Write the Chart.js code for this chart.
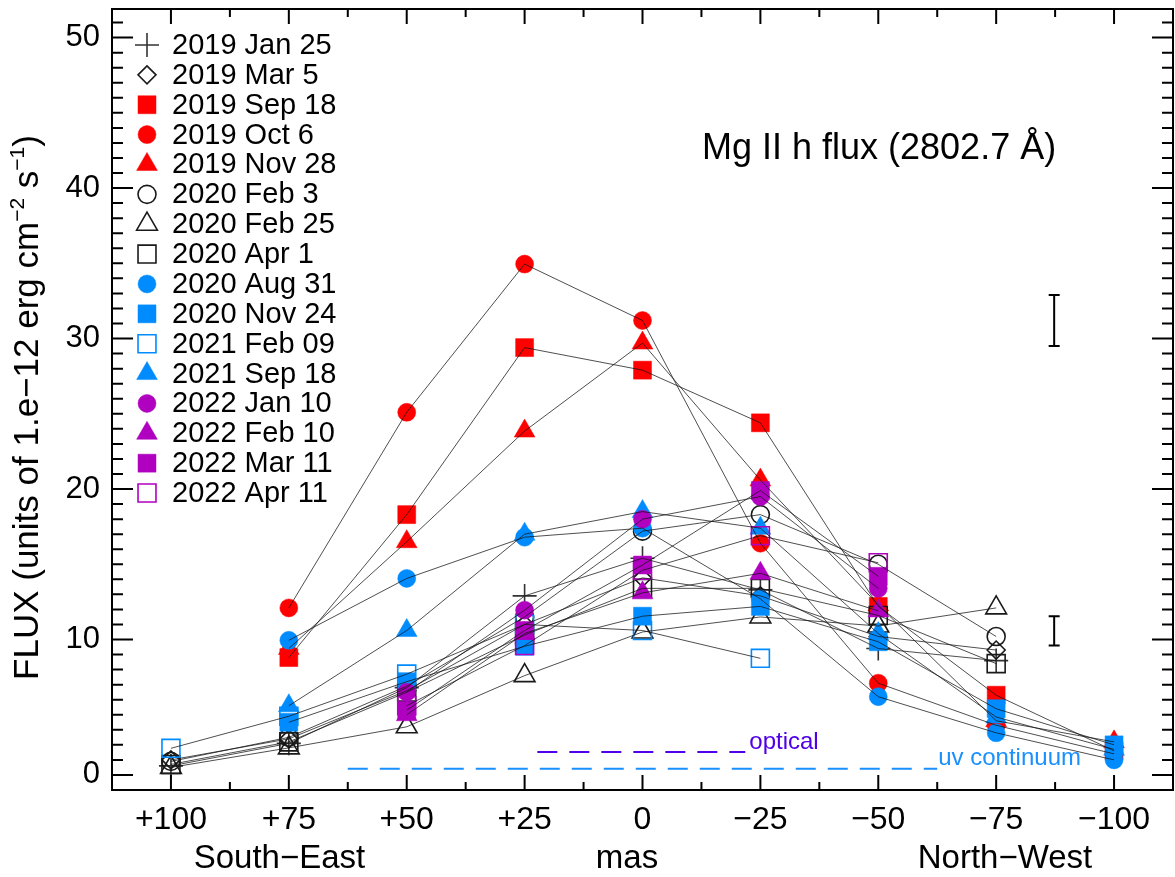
<!DOCTYPE html>
<html><head><meta charset="utf-8">
<script src="https://cdn.jsdelivr.net/npm/chart.js@4.4.0/dist/chart.umd.min.js"></script>
<style>html,body{margin:0;padding:0;background:#fff;}#wrap{width:1175px;height:877px;}</style>
</head><body><div id="wrap"><canvas id="c" width="1175" height="877"></canvas></div>
<script>
// ---------- data ----------
const positions = [100, 75, 50, 25, 0, -25, -50, -75, -100];
const xTickValues = [100, 75, 50, 25, 0, -25, -50, -75, -100];
const xTickLabels = ['+100', '+75', '+50', '+25', '0', '\u221225', '\u221250', '\u221275', '\u2212100'];
const yTickValues = [1, 10, 20, 30, 40, 50];
const yTickLabels = ['0', '10', '20', '30', '40', '50'];

const seriesNames = ['2019 Jan 25', '2019 Mar 5', '2019 Sep 18', '2019 Oct 6', '2019 Nov 28',
  '2020 Feb 3', '2020 Feb 25', '2020 Apr 1', '2020 Aug 31', '2020 Nov 24', '2021 Feb 09',
  '2021 Sep 18', '2022 Jan 10', '2022 Feb 10', '2022 Mar 11', '2022 Apr 11'];

const s2019Jan25 = [1.6, 3.1, 6.8, 12.9, 15.4, 13.3, 9.4, 8.6, null];
const s2019Mar05 = [2.0, 3.4, 6.6, 11.0, 14.1, 12.9, 10.2, 9.3, null];
const s2019Sep18 = [null, 8.8, 18.3, 29.4, 27.9, 24.4, 12.2, 6.3, 2.6];
const s2019Oct06 = [null, 12.1, 25.1, 34.95, 31.2, 16.4, 7.1, 4.3, 2.4];
const s2019Nov28 = [null, 9.4, 16.5, 23.85, 29.7, 20.6, 12.3, 4.6, 3.2];
const s2020Feb03 = [1.9, 3.5, 6.9, 11.5, 17.2, 18.3, 15.0, 10.2, null];
const s2020Feb25 = [1.5, 2.8, 4.2, 7.6, 10.5, 11.5, 10.9, 12.1, null];
const s2020Apr01 = [1.7, 3.2, 6.5, 10.3, 13.4, 13.4, 11.6, 8.4, null];
const s2020Aug31 = [null, 9.95, 14.06, 16.8, 17.4, 12.7, 6.2, 3.8, 2.0];
const s2020Nov24 = [null, 4.5, 7.2, 9.55, 11.55, 12.2, 9.85, 5.4, 3.0];
const s2021Feb09 = [2.77, 4.9, 7.7, 11.0, 10.6, 8.75, null, null, null];
const s2021Sep18 = [null, 5.6, 10.6, 17.0, 18.5, 17.4, 10.4, 4.85, 2.7];
const s2022Jan10 = [null, null, 6.5, 11.95, 18.0, 19.5, 13.4, null, null];
const s2022Feb10 = [null, null, 5.0, 10.4, 13.1, 14.4, 11.9, null, null];
const s2022Mar11 = [null, null, 5.3, 10.6, 14.95, 19.9, 14.2, null, null];
const s2022Apr11 = [null, null, 5.6, 9.6, 14.6, 16.9, 15.1, null, null];

const seriesValues = [s2019Jan25, s2019Mar05, s2019Sep18, s2019Oct06, s2019Nov28, s2020Feb03,
  s2020Feb25, s2020Apr01, s2020Aug31, s2020Nov24, s2021Feb09, s2021Sep18, s2022Jan10,
  s2022Feb10, s2022Mar11, s2022Apr11];

// reference continuum levels (dashed)
const opticalRange = [22.3, -21.8];
const opticalLevel = 2.53;
const uvRange = [62.5, -62.5];
const uvLevel = 1.42;

// typical error bars
const errX = [-87.3, -87.3];
const errLow = [29.5, 9.6];
const errHigh = [32.9, 11.55];

// ---------- styles ----------
const FONT = '"Liberation Sans", Arial, Helvetica, sans-serif';
const RED = '#ff0000', BLUE = '#008cff', MAG = '#b000c0', BLK = '#1a1a1a';
const styles = [
  { ps: 'cross', c: '#333333', fill: false, r: 12 },
  { ps: 'rectRot', c: BLK, fill: false, r: 9 },
  { ps: 'rect', c: RED, fill: true, r: 12.7 },
  { ps: 'circle', c: RED, fill: true, r: 9 },
  { ps: 'triangle', c: RED, fill: true, r: 12 },
  { ps: 'circle', c: BLK, fill: false, r: 9 },
  { ps: 'triangle', c: BLK, fill: false, r: 12 },
  { ps: 'rect', c: BLK, fill: false, r: 12.7 },
  { ps: 'circle', c: BLUE, fill: true, r: 9 },
  { ps: 'rect', c: BLUE, fill: true, r: 12.7 },
  { ps: 'rect', c: BLUE, fill: false, r: 12.7 },
  { ps: 'triangle', c: BLUE, fill: true, r: 12 },
  { ps: 'circle', c: MAG, fill: true, r: 9 },
  { ps: 'triangle', c: MAG, fill: true, r: 12 },
  { ps: 'rect', c: MAG, fill: true, r: 12.7 },
  { ps: 'rect', c: MAG, fill: false, r: 12.7 },
];

function toPoints(vals) {
  return positions.map((x, i) => ({ x: x, y: vals[i] })).filter(p => p.y !== null);
}

const datasets = [];
seriesValues.forEach((vals, i) => {
  const st = styles[i];
  datasets.push({
    label: seriesNames[i], data: toPoints(vals), showLine: false,
    pointStyle: st.ps, pointRadius: st.r, pointHoverRadius: st.r,
    pointBackgroundColor: st.fill ? st.c : 'rgba(0,0,0,0)',
    pointBorderColor: st.c, pointBorderWidth: st.fill ? 0.5 : 1.6,
    order: 200 - i
  });
});
seriesValues.forEach((vals, i) => {
  datasets.push({
    label: seriesNames[i] + ' line', data: toPoints(vals), showLine: true,
    borderColor: 'rgba(20,20,20,0.75)', borderWidth: 1, pointRadius: 0, pointHoverRadius: 0,
    fill: false, order: 100 - i
  });
});
datasets.push({
  label: 'optical', data: [{ x: opticalRange[0], y: opticalLevel }, { x: opticalRange[1], y: opticalLevel }],
  showLine: true, borderColor: '#5000e6', borderWidth: 2, borderDash: [20, 12], pointRadius: 0, order: 300
});
datasets.push({
  label: 'uv continuum', data: [{ x: uvRange[0], y: uvLevel }, { x: uvRange[1], y: uvLevel }],
  showLine: true, borderColor: '#1a90ff', borderWidth: 2, borderDash: [20, 12], pointRadius: 0, order: 301
});

function drawMarker(ctx, st, x, y) {
  if (Chart.helpers && Chart.helpers.drawPoint) {
    ctx.save();
    ctx.fillStyle = st.fill ? st.c : 'rgba(0,0,0,0)';
    ctx.strokeStyle = st.c;
    ctx.lineWidth = st.fill ? 0.5 : 1.6;
    Chart.helpers.drawPoint(ctx, { pointStyle: st.ps, radius: st.r, rotation: 0, borderWidth: ctx.lineWidth }, x, y);
    ctx.restore();
  }
}

const decor = {
  id: 'decor',
  afterDraw(chart) {
    const ctx = chart.ctx, a = chart.chartArea;
    const xs = chart.scales.x, ys = chart.scales.y;
    ctx.save();
    ctx.strokeStyle = '#000';
    ctx.lineWidth = 2;
    // frame
    ctx.strokeRect(a.left, a.top, a.right - a.left, a.bottom - a.top);
    // x ticks
    ctx.beginPath();
    for (let k = -8; k <= 8; k++) {
      const v = 12.5 * k;
      const px = xs.getPixelForValue(v);
      const L = (k % 2 === 0) ? 15 : 8;
      ctx.moveTo(px, a.bottom); ctx.lineTo(px, a.bottom - L);
      ctx.moveTo(px, a.top); ctx.lineTo(px, a.top + L);
    }
    // y ticks
    for (let v = 1; v <= 51; v++) {
      const py = ys.getPixelForValue(v);
      const L = yTickValues.includes(v) ? 21 : 11;
      ctx.moveTo(a.left, py); ctx.lineTo(a.left + L, py);
      ctx.moveTo(a.right, py); ctx.lineTo(a.right - L, py);
    }
    ctx.stroke();
    // error bars
    ctx.beginPath();
    for (let i = 0; i < errX.length; i++) {
      const px = xs.getPixelForValue(errX[i]);
      const p1 = ys.getPixelForValue(errLow[i]), p2 = ys.getPixelForValue(errHigh[i]);
      ctx.moveTo(px, p1); ctx.lineTo(px, p2);
      ctx.moveTo(px - 5.5, p1); ctx.lineTo(px + 5.5, p1);
      ctx.moveTo(px - 5.5, p2); ctx.lineTo(px + 5.5, p2);
    }
    ctx.stroke();

    ctx.fillStyle = '#000';
    ctx.textBaseline = 'alphabetic';
    // annotation
    ctx.font = '36px ' + FONT;
    ctx.textAlign = 'left';
    ctx.fillText('Mg II h flux (2802.7 \u00c5)', 702, 159);
    // x axis sub-titles
    ctx.font = '33px ' + FONT;
    ctx.textAlign = 'center';
    ctx.fillText('South\u2212East', 279.5, 868);
    ctx.fillText('mas', 627, 868);
    ctx.fillText('North\u2212West', 1005, 868);
    // continuum labels
    ctx.font = '24px ' + FONT;
    ctx.textAlign = 'left';
    ctx.fillStyle = '#5000e6';
    ctx.fillText('optical', xs.getPixelForValue(opticalRange[1]) + 4, 749);
    ctx.fillStyle = '#1a90ff';
    ctx.fillText('uv continuum', xs.getPixelForValue(uvRange[1]) + 1, 765);

    // y title with superscripts
    ctx.fillStyle = '#000';
    const big = '35px ' + FONT, small = '21px ' + FONT;
    const parts = [
      ['FLUX (units of 1.e\u221212 erg cm', big, 0],
      ['\u22122', small, 14],
      [' s', big, 0],
      ['\u22121', small, 14],
      [')', big, 0]
    ];
    let total = 0;
    parts.forEach(p => { ctx.font = p[1]; total += ctx.measureText(p[0]).width; });
    ctx.translate(38, 407.5);
    ctx.rotate(-Math.PI / 2);
    let cx = -total / 2;
    ctx.textAlign = 'left';
    parts.forEach(p => { ctx.font = p[1]; ctx.fillText(p[0], cx, -p[2]); cx += ctx.measureText(p[0]).width; });
    ctx.setTransform(1, 0, 0, 1, 0, 0);

    // legend
    ctx.font = '29px ' + FONT;
    ctx.textBaseline = 'middle';
    ctx.textAlign = 'left';
    for (let i = 0; i < seriesNames.length; i++) {
      const yy = 45 + 29.87 * i;
      drawMarker(ctx, styles[i], 147, yy);
      ctx.fillStyle = '#000';
      ctx.fillText(seriesNames[i], 172, yy + 1);
    }
    ctx.restore();
  }
};

new Chart(document.getElementById('c'), {
  type: 'line',
  data: { datasets: datasets },
  options: {
    responsive: false, animation: false,
    layout: { autoPadding: false, padding: { top: 9, right: 2, left: 0, bottom: 0 } },
    plugins: { legend: { display: false }, tooltip: { enabled: false } },
    scales: {
      x: {
        type: 'linear', reverse: true, min: -112.5, max: 112.5, position: 'bottom',
        afterBuildTicks: s => { s.ticks = xTickValues.map(v => ({ value: v })); },
        afterFit: s => { s.height = 87; s.paddingLeft = 0; s.paddingRight = 0; },
        grid: { display: false, drawTicks: false }, border: { display: false },
        ticks: { font: { family: FONT, size: 32 }, color: '#000', padding: 11, autoSkip: false, maxRotation: 0,
          callback: (v, i) => xTickLabels[i] }
      },
      y: {
        type: 'linear', min: 0, max: 51.9, position: 'left',
        afterBuildTicks: s => { s.ticks = yTickValues.map(v => ({ value: v })); },
        afterFit: s => { s.width = 112; s.paddingTop = 0; s.paddingBottom = 0; },
        grid: { display: false, drawTicks: false }, border: { display: false },
        ticks: { font: { family: FONT, size: 31 }, color: '#000', padding: 12, autoSkip: false,
          callback: (v, i) => yTickLabels[i] }
      }
    }
  },
  plugins: [decor]
});
</script></body></html>
